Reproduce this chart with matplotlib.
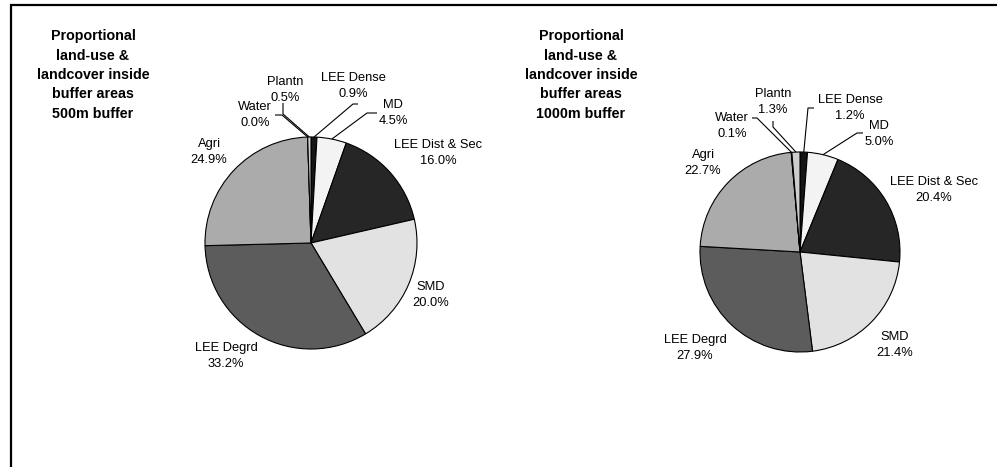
import matplotlib
matplotlib.use("Agg")
import matplotlib.pyplot as plt
import numpy as np

plt.rcParams['font.family'] = ['Liberation Sans', 'DejaVu Sans']

# ---- data ----
categories = ["LEE Dense", "MD", "LEE Dist & Sec", "SMD", "LEE Degrd", "Agri", "Water", "Plantn"]
values_500 = [0.9, 4.5, 16.0, 20.0, 33.2, 24.9, 0.0, 0.5]
values_1000 = [1.2, 5.0, 20.4, 21.4, 27.9, 22.7, 0.1, 1.3]
titles = ["Proportional\nland-use &\nlandcover inside\nbuffer areas\n500m buffer",
          "Proportional\nland-use &\nlandcover inside\nbuffer areas\n1000m buffer"]

# ---- style ----
colors = ["#151515", "#f3f3f3", "#262626", "#e2e2e2", "#5c5c5c", "#ababab", "#ffffff", "#cdcdcd"]
W, H = 997, 467

def P(x, y):
    return (x, H - y)

pies = [
    dict(values=values_500, center=(311, 243), radius=106, title=titles[0], title_xy=(93, 75),
         labels={"LEE Dense": (353, 86), "MD": (393, 113), "LEE Dist & Sec": (438, 153),
                 "SMD": (431, 295), "LEE Degrd": (226, 356), "Agri": (209, 152),
                 "Water": (255, 115), "Plantn": (285, 90)},
         leaders={"Water": [(275, 115), (282, 115)], "Plantn": [(283, 103), (283, 114)],
                  "LEE Dense": [(358, 104), (353, 104)], "MD": [(377, 113), (367, 113)]}),
    dict(values=values_1000, center=(800, 252), radius=100, title=titles[1], title_xy=(581, 75),
         labels={"LEE Dense": (850, 108), "MD": (879, 134), "LEE Dist & Sec": (934, 190),
                 "SMD": (895, 345), "LEE Degrd": (695, 348), "Agri": (703, 163),
                 "Water": (732, 126), "Plantn": (773, 102)},
         leaders={"Water": [(752, 118), (757, 118)], "Plantn": [(773, 121), (773, 127)],
                  "LEE Dense": [(814, 108), (808, 108)], "MD": [(863, 133), (857, 133)]}),
]

fig = plt.figure(figsize=(W / 100, H / 100), dpi=100)
ax = fig.add_axes([0, 0, 1, 1])

for p in pies:
    cx, cy = p["center"]
    r = p["radius"]
    wedges, _ = ax.pie(p["values"], colors=colors, startangle=90, counterclock=False,
                       center=P(cx, cy), radius=r, frame=True,
                       wedgeprops=dict(edgecolor="black", linewidth=0.8))
    for w, name, v in zip(wedges, categories, p["values"]):
        lx, ly = p["labels"][name]
        ax.text(*P(lx, ly), f"{name}\n{v:.1f}%", ha="center", va="center",
                multialignment="center", fontsize=9.3, linespacing=1.4, color="black")
        if name in p["leaders"]:
            mid = np.deg2rad((w.theta1 + w.theta2) / 2)
            ex, ey = cx + r * np.cos(mid), cy - r * np.sin(mid)
            pts = p["leaders"][name] + [(ex, ey)]
            xs = [q[0] for q in pts]
            ys = [H - q[1] for q in pts]
            ax.plot(xs, ys, color="black", linewidth=0.8, solid_capstyle="butt")
    tx, ty = p["title_xy"]
    ax.text(*P(tx, ty), p["title"], ha="center", va="center", multialignment="center",
            fontsize=10.3, fontweight="bold", linespacing=1.49)

ax.set_xlim(0, W)
ax.set_ylim(0, H)
ax.set_aspect("auto")
ax.axis("off")

# outer frame (only top and left visible)
ax.plot([11, 11, W + 5], [-5, H - 5, H - 5], color="black", linewidth=1.6,
        solid_joinstyle="miter", clip_on=False)

fig.savefig("out.png", dpi=100)
